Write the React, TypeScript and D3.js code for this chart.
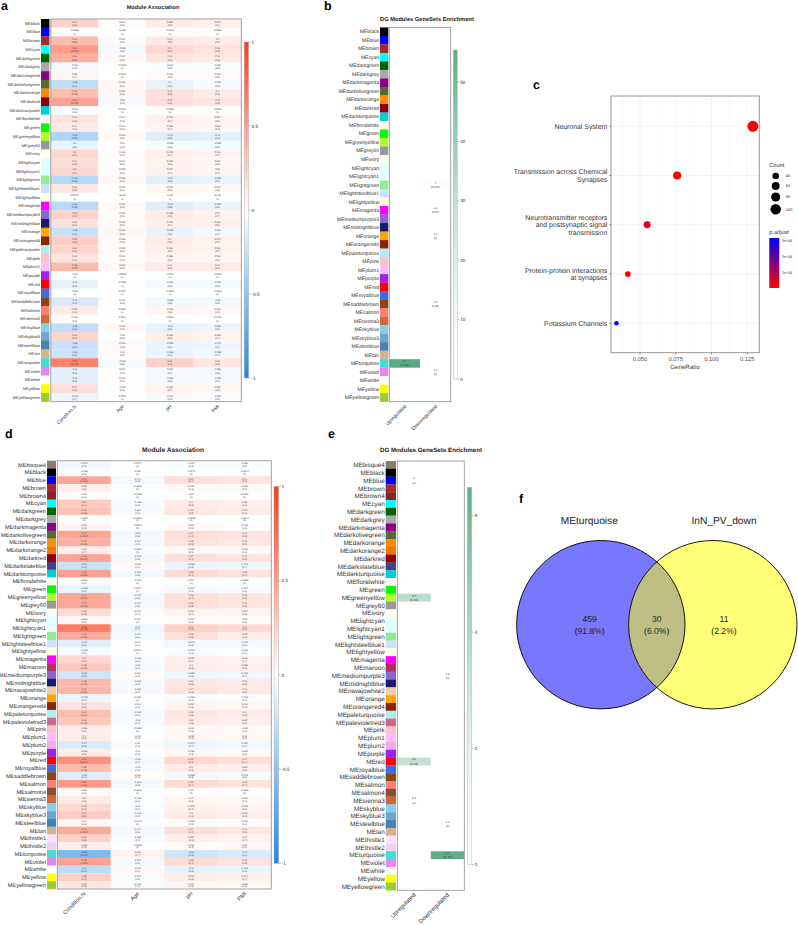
import React from 'react';
import * as d3 from 'd3';

const font = "'Liberation Sans', Arial, sans-serif";

// WGCNA module colours
const moduleColors: Record<string, string> = {
  bisque4: '#8B7D6B', black: '#000000', blue: '#0000FF', brown: '#A52A2A', brown4: '#8B2323', cyan: '#00FFFF',
  darkgreen: '#006400', darkgrey: '#A9A9A9', darkmagenta: '#8B008B', darkolivegreen: '#556B2F', darkorange: '#FF8C00',
  darkorange2: '#EE7600', darkred: '#8B0000', darkslateblue: '#483D8B', darkturquoise: '#00CED1', floralwhite: '#FFFAF0',
  green: '#00FF00', greenyellow: '#ADFF2F', grey60: '#999999', ivory: '#FFFFF0', lightcyan: '#E0FFFF', lightcyan1: '#E0FFFF',
  lightgreen: '#90EE90', lightsteelblue1: '#CAE1FF', lightyellow: '#FFFFE0', magenta: '#FF00FF', maroon: '#B03060',
  mediumpurple3: '#8968CD', midnightblue: '#191970', navajowhite2: '#EECFA1', orange: '#FFA500', orangered4: '#8B2500',
  paleturquoise: '#AFEEEE', palevioletred3: '#CD6889', pink: '#FFC0CB', plum1: '#FFBBFF', plum2: '#EEAEEE', purple: '#A020F0',
  red: '#FF0000', royalblue: '#4169E1', saddlebrown: '#8B4513', salmon: '#FA8072', salmon4: '#8B4C39', sienna3: '#CD6839',
  skyblue: '#87CEEB', skyblue3: '#6CA6CD', steelblue: '#4682B4', tan: '#D2B48C', thistle1: '#FFE1FF', thistle2: '#EED2EE',
  turquoise: '#40E0D0', violet: '#EE82EE', white: '#FFFFFF', yellow: '#FFFF00', yellowgreen: '#9ACD32',
};

const traits = ['Condition.hi', 'Age', 'pH', 'PMI'];
const directions = ['Upregulated', 'Downregulated'];

// Panel a
const modulesA = ['black', 'blue', 'brown', 'cyan', 'darkgreen', 'darkgrey', 'darkmagenta', 'darkolivegreen', 'darkorange', 'darkred', 'darkturquoise', 'floralwhite', 'green', 'greenyellow', 'grey60', 'ivory', 'lightcyan', 'lightcyan1', 'lightgreen', 'lightsteelblue1', 'lightyellow', 'magenta', 'mediumpurple3', 'midnightblue', 'orange', 'orangered4', 'paleturquoise', 'pink', 'plum1', 'purple', 'red', 'royalblue', 'saddlebrown', 'salmon', 'sienna3', 'skyblue', 'skyblue3', 'steelblue', 'tan', 'turquoise', 'violet', 'white', 'yellow', 'yellowgreen'];
const conditionA = [0.23, -0.0059, 0.34, 0.51, 0.41, -0.032, 0.05, -0.28, 0.34, 0.47, -0.014, 0.14, 0.11, -0.36, -0.1, 0.2, 0.17, 0.2, -0.33, 0.12, 0.00027, -0.32, 0.23, 0.15, -0.25, 0.26, 0.22, 0.14, 0.35, -0.01, -0.11, -0.008, -0.17, 0.097, 0.016, -0.28, 0.22, -0.25, -0.23, 0.64, -0.12, -0.12, 0.17, -0.075];
const conditionPA = ['0.4', '1', '0.09', '0.002', '0.03', '0.9', '0.7', '0.2', '0.09', '0.009', '0.9', '0.4', '0.4', '0.05', '0.5', '0.3', '0.4', '0.3', '0.09', '0.5', '1', '0.09', '0.3', '0.4', '0.2', '0.2', '0.3', '0.4', '0.08', '1', '0.5', '1', '0.4', '0.6', '0.9', '0.2', '0.3', '0.2', '0.3', '2e-04', '0.5', '0.5', '0.4', '0.7'];
const ageA = [0.023, 9e-5, 0.021, -0.049, 0.037, 0.0029, 0.0024, 0.036, 0.041, -0.04, 0.0013, 0.017, 0.013, 0.032, 0.01, 0.018, 0.013, 0.018, 0.035, 0.011, -5e-5, 0.037, 0.021, 0.024, 0.042, 0.028, 0.024, 0.013, 0.034, 0.00091, 0.0095, 0.0007, 0.016, 0.0087, 0.0011, 0.029, -0.02, 0.026, 0.02, -0.034, 0.016, 0.016, -0.014, 0.0079];
const agePA = ['0.9', '1', '0.9', '0.8', '0.9', '1', '1', '0.9', '0.9', '0.8', '1', '0.9', '0.9', '0.9', '0.9', '0.9', '0.9', '0.9', '0.9', '0.9', '1', '0.9', '0.9', '0.9', '0.9', '0.9', '0.9', '0.9', '0.9', '1', '1', '1', '0.9', '1', '1', '0.9', '0.9', '0.9', '0.9', '0.8', '0.9', '0.9', '0.9', '1'];
const phA = [0.096, -0.0014, 0.12, 0.2, 0.14, -0.016, 0.022, -0.1, 0.16, 0.17, -0.0053, 0.075, 0.059, -0.14, -0.045, 0.079, 0.069, 0.077, -0.13, 0.046, 9.6e-5, -0.14, 0.095, 0.075, -0.099, 0.1, 0.082, 0.056, 0.11, -0.004, -0.043, -0.0042, -0.065, 0.039, 0.0063, -0.11, 0.084, -0.089, -0.083, 0.24, -0.047, -0.049, 0.068, -0.032];
const phPA = ['0.8', '1', '0.5', '0.3', '0.5', '0.9', '0.9', '0.6', '0.5', '0.4', '1', '0.7', '0.7', '0.5', '0.8', '0.7', '0.8', '0.7', '0.5', '0.8', '1', '0.5', '0.6', '0.7', '0.6', '0.6', '0.6', '0.8', '0.6', '1', '0.8', '1', '0.8', '0.8', '1', '0.5', '0.6', '0.6', '0.6', '0.2', '0.7', '0.8', '0.7', '0.9'];
const pmiA = [0.079, -0.0053, 0.1, 0.15, 0.12, -0.015, 0.024, -0.046, 0.1, 0.14, -0.0046, 0.057, 0.052, -0.12, -0.048, 0.062, 0.043, 0.06, -0.098, 0.032, 8.6e-5, -0.097, 0.07, 0.083, -0.057, 0.074, 0.064, 0.044, 0.11, -0.0018, -0.046, -0.0029, -0.05, 0.029, 0.0036, -0.082, 0.069, -0.076, -0.065, 0.13, -0.052, -0.035, 0.052, -0.024];
const pmiPA = ['0.7', '1', '0.6', '0.4', '0.5', '0.9', '0.9', '0.8', '0.6', '0.5', '1', '0.8', '0.8', '0.6', '0.8', '0.7', '0.8', '0.7', '0.6', '0.8', '1', '0.6', '0.7', '0.6', '0.7', '0.7', '0.7', '0.8', '0.6', '1', '0.8', '1', '0.8', '0.9', '1', '0.6', '0.7', '0.7', '0.7', '0.5', '0.8', '0.8', '0.8', '0.9'];

// Panel d
const modulesD = ['bisque4', 'black', 'blue', 'brown', 'brown4', 'cyan', 'darkgreen', 'darkgrey', 'darkmagenta', 'darkolivegreen', 'darkorange', 'darkorange2', 'darkred', 'darkslateblue', 'darkturquoise', 'floralwhite', 'green', 'greenyellow', 'grey60', 'ivory', 'lightcyan', 'lightcyan1', 'lightgreen', 'lightsteelblue1', 'lightyellow', 'magenta', 'maroon', 'mediumpurple3', 'midnightblue', 'navajowhite2', 'orange', 'orangered4', 'paleturquoise', 'palevioletred3', 'pink', 'plum1', 'plum2', 'purple', 'red', 'royalblue', 'saddlebrown', 'salmon', 'salmon4', 'sienna3', 'skyblue', 'skyblue3', 'steelblue', 'tan', 'thistle1', 'thistle2', 'turquoise', 'violet', 'white', 'yellow', 'yellowgreen'];
const conditionD = [-0.072, -0.033, 0.45, 0.084, 0.027, 0.27, 0.31, -0.0057, 0.06, 0.47, 0.41, 0.09, 0.46, -0.24, 0.49, 0.019, -0.089, 0.44, 0.44, 0.18, 0.038, 0.66, 0.42, -0.13, -0.039, 0.2, 0.28, -0.22, 0.36, 0.37, -0.075, 0.14, 0.34, 0.28, 0.086, 0.1, -0.17, 0.096, 0.57, 0.35, -0.15, 0.52, 0.027, 0.11, 0.19, 0.27, 0.04, 0.44, 0.23, 0.083, -0.58, 0.48, -0.3, 0.25, 0.13];
const conditionPD = ['0.7', '0.9', '0.002', '0.6', '0.9', '0.1', '0.08', '1', '0.8', '0.004', '0.01', '0.7', '0.004', '0.2', '0.002', '0.9', '0.6', '0.004', '0.006', '0.3', '0.9', '4e-05', '0.01', '0.5', '0.9', '0.3', '0.09', '0.3', '0.03', '0.02', '0.7', '0.5', '0.04', '0.09', '0.6', '0.6', '0.3', '0.6', '6e-04', '0.06', '0.4', '0.03', '0.9', '0.5', '0.3', '0.1', '0.8', '0.004', '0.2', '0.6', '4e-04', '0.003', '0.07', '0.1', '0.5'];
const ageD = [0.0077, 0.002, -0.047, -0.0089, -0.0028, -0.028, -0.034, 0.00064, -0.0054, -0.05, -0.044, -0.0084, -0.049, 0.025, -0.052, -0.002, 0.0097, -0.045, -0.047, -0.019, 0.004, -0.07, -0.044, 0.014, 0.0042, -0.022, -0.03, 0.023, -0.038, -0.039, 0.008, -0.014, -0.035, -0.03, -0.0089, -0.011, 0.02, -0.01, -0.06, -0.03, 0.016, -0.053, -0.0029, -0.012, -0.02, -0.029, -0.0043, -0.047, -0.025, -0.0085, 0.062, -0.047, 0.032, -0.027, -0.013];
const agePD = ['1', '1', '0.8', '1', '1', '0.9', '0.9', '1', '1', '0.8', '0.9', '1', '0.8', '0.9', '0.8', '1', '1', '0.8', '0.8', '0.9', '1', '0.7', '0.8', '0.9', '1', '0.9', '0.9', '0.9', '0.9', '0.9', '1', '0.9', '0.9', '0.9', '1', '0.9', '0.9', '0.9', '0.7', '0.9', '0.9', '0.8', '1', '0.9', '0.9', '0.9', '1', '0.8', '0.9', '1', '0.7', '0.8', '0.9', '0.9', '0.9'];
const phD = [-0.027, -0.0071, 0.17, 0.031, -0.01, 0.1, 0.13, -0.0025, 0.024, 0.17, 0.15, 0.033, 0.17, -0.089, 0.18, 0.007, -0.034, 0.16, 0.16, 0.067, 0.014, 0.24, 0.16, -0.049, -0.015, 0.076, 0.1, -0.081, 0.13, 0.14, -0.028, 0.054, 0.13, 0.11, 0.031, 0.038, -0.073, 0.036, 0.21, 0.1, -0.056, 0.19, 0.01, 0.04, 0.073, 0.1, 0.015, 0.17, 0.087, 0.032, -0.22, 0.18, -0.11, 0.094, 0.044];
const phPD = ['0.9', '1', '0.4', '0.9', '1', '0.6', '0.5', '1', '0.9', '0.4', '0.5', '0.9', '0.4', '0.6', '0.4', '1', '0.9', '0.4', '0.5', '0.7', '0.9', '0.2', '0.5', '0.8', '0.9', '0.7', '0.6', '0.6', '0.5', '0.5', '0.9', '0.8', '0.5', '0.6', '0.9', '0.9', '0.7', '0.9', '0.3', '0.5', '0.8', '0.4', '1', '0.9', '0.7', '0.6', '0.9', '0.4', '0.6', '0.9', '0.3', '0.4', '0.5', '0.6', '0.8'];
const pmiD = [-0.022, -0.0094, 0.14, 0.025, 0.0081, 0.08, 0.097, -0.0017, 0.018, 0.14, 0.12, 0.028, 0.14, -0.072, 0.15, 0.0056, -0.027, 0.13, 0.13, 0.054, 0.011, 0.2, 0.097, -0.039, -0.012, 0.061, 0.088, -0.065, 0.11, 0.11, -0.023, 0.042, 0.1, 0.087, 0.025, 0.03, -0.057, 0.029, 0.17, 0.084, -0.045, 0.15, 0.0082, 0.032, 0.058, 0.084, 0.012, 0.13, 0.07, 0.03, -0.17, 0.15, -0.091, 0.074, 0.036];
const pmiPD = ['0.9', '1', '0.5', '0.9', '1', '0.6', '0.6', '1', '0.9', '0.5', '0.5', '0.9', '0.5', '0.7', '0.4', '1', '0.9', '0.5', '0.5', '0.8', '0.9', '0.3', '0.6', '0.8', '0.9', '0.7', '0.6', '0.7', '0.5', '0.5', '0.9', '0.8', '0.6', '0.6', '0.9', '0.9', '0.7', '0.9', '0.4', '0.6', '0.8', '0.4', '1', '0.9', '0.8', '0.6', '0.9', '0.5', '0.7', '0.9', '0.4', '0.5', '0.6', '0.7', '0.9'];

// Panel b: only the labelled cells are kept
const hitModulesB = ['lightgreen', 'magenta', 'orange', 'saddlebrown', 'turquoise', 'violet'];
const hitDirectionB = ['Downregulated', 'Downregulated', 'Downregulated', 'Downregulated', 'Upregulated', 'Downregulated'];
const hitValueB = [4, 3.3, 1.3, 2.8, 57, 1.3];
const hitPB = ['0.025', '0.05', '1', '0.08', '4e-56', '1'];

// Panel e
const hitModulesE = ['blue', 'greenyellow', 'mediumpurple3', 'red', 'sienna3', 'steelblue', 'turquoise'];
const hitDirectionE = ['Upregulated', 'Upregulated', 'Downregulated', 'Upregulated', 'Upregulated', 'Downregulated', 'Downregulated'];
const hitValueE = [1, 3.7, 1.2, 3.4, 2.2, 1.1, 6.5];
const hitPE = ['1', '0.03', '1', '0.03', '1', '1', '3e-06'];

// Panel c
const terms = [['Neuronal System'], ['Transmission across Chemical', 'Synapses'], ['Neurotransmitter receptors', 'and postsynaptic signal', 'transmission'], ['Protein-protein interactions', 'at synapses'], ['Potassium Channels']];
const geneRatio = [0.129, 0.076, 0.055, 0.0415, 0.0335];
const geneCount = [108, 64, 46, 35, 28];
const pAdjust = [1e-10, 1e-9, 3.5e-7, 5e-8, 3.2e-6];
const ratioTicks = [0.05, 0.075, 0.1, 0.125];
const countTicks = [40, 60, 80, 100];
const pTicks = [1e-6, 2e-6, 3e-6];

// Panel f
const vennNames = ['MEturquoise', 'InN_PV_down'];
const vennCounts = [459, 30, 11];
const vennPercents = ['91.8%', '6.0%', '2.2%'];

const corrColor = d3.scaleLinear<string>().domain([-1, 0, 1]).range(['#1E88E5', '#FFFFFF', '#FA3C18']);

const fmt = (v: number) => (Math.abs(v) < 1e-4 ? v.toExponential(0).replace(/e-(\d)$/, 'e-0$1') : String(v));

function Colorbar({ id, scale, color, ticks, x, width, fontSize = 4.6, format }: any) {
  const [y1, y0] = scale.range();
  const [d0, d1] = scale.domain();
  const stops = d3.range(0, 1.001, 0.05);
  return (
    <g>
      <defs>
        <linearGradient id={id} x1="0" y1="1" x2="0" y2="0">
          {stops.map((s: number) => (
            <stop key={s} offset={s} stopColor={color(d0 + (d1 - d0) * s)} />
          ))}
        </linearGradient>
      </defs>
      <rect x={x} y={y0} width={width} height={y1 - y0} fill={`url(#${id})`} stroke="#aaa" strokeWidth={0.4} />
      {ticks.map((t: number) => (
        <g key={t} transform={`translate(${x + width},${scale(t)})`}>
          <line x1={0} x2={2} stroke="#555" strokeWidth={0.4} />
          <text x={3} dy="0.35em" fontSize={fontSize} fill="#333">{format ? format(t) : t}</text>
        </g>
      ))}
    </g>
  );
}

function ModuleRows({ modules, swatchX, swatchW, y, labelSize }: any) {
  return (
    <g>
      {modules.map((m: string) => (
        <g key={m}>
          <rect x={swatchX} y={y(m)} width={swatchW} height={y.bandwidth() + 0.2} fill={moduleColors[m]} />
          <text x={swatchX - 1} y={y(m) + y.bandwidth() / 2} dy="0.35em" textAnchor="end" fontSize={labelSize} fill="#333">{'ME' + m}</text>
        </g>
      ))}
    </g>
  );
}

function XLabels({ labels, x, y, size }: any) {
  return (
    <g>
      {labels.map((l: string) => (
        <text key={l} transform={`translate(${x(l) + x.bandwidth() / 2 + 2},${y}) rotate(-45)`} textAnchor="end" fontSize={size} fill="#333">{l}</text>
      ))}
    </g>
  );
}

function CorrPanel({ modules, columns, x0, x1, y0, y1, swatchX, swatchW, labelSize, cellSize, lineGap, titleX, titleY, titleSize, barX, barW, barTop, barBottom, id, xLabelSize }: any) {
  const x = d3.scaleBand<string>().domain(traits).range([x0, x1]);
  const y = d3.scaleBand<string>().domain(modules).range([y0, y1]);
  const barScale = d3.scaleLinear().domain([-1, 1]).range([barBottom, barTop]);
  return (
    <g>
      <text x={titleX} y={titleY} textAnchor="middle" fontSize={titleSize} fontWeight="bold" fill="#222">Module Association</text>
      <ModuleRows modules={modules} swatchX={swatchX} swatchW={swatchW} y={y} labelSize={labelSize} />
      {columns.map((col: any, ci: number) =>
        modules.map((m: string, ri: number) => {
          const cx = (x(traits[ci]) as number) + x.bandwidth() / 2;
          const cy = (y(m) as number) + y.bandwidth() / 2;
          return (
            <g key={m + ci}>
              <rect x={x(traits[ci])} y={y(m)} width={x.bandwidth()} height={y.bandwidth() + 0.1} fill={corrColor(col.values[ri])} />
              <text x={cx} y={cy - lineGap / 2} dy="0.35em" textAnchor="middle" fontSize={cellSize} fill="#444">{fmt(col.values[ri])}</text>
              <text x={cx} y={cy + lineGap / 2} dy="0.35em" textAnchor="middle" fontSize={cellSize} fill="#444">{`(${col.p[ri]})`}</text>
            </g>
          );
        })
      )}
      <rect x={x0} y={y0} width={x1 - x0} height={y1 - y0} fill="none" stroke="#999" strokeWidth={0.9} />
      <Colorbar id={id} scale={barScale} color={corrColor} ticks={[-1, -0.5, 0, 0.5, 1]} x={barX} width={barW} />
      <XLabels labels={traits} x={x} y={y1 + 5} size={xLabelSize} />
    </g>
  );
}

function EnrichPanel({ modules, hits, x0, x1, y0, y1, swatchX, swatchW, labelSize, cellSize, lineGap, titleX, titleY, titleSize, barX, barW, barBottom, barTop, domainMax, ticks, id, xLabelSize }: any) {
  const x = d3.scaleBand<string>().domain(directions).range([x0, x1]);
  const y = d3.scaleBand<string>().domain(modules).range([y0, y1]);
  const color = d3.scalePow<string>().exponent(1.5).domain([0, domainMax]).range(['#FFFFFF', '#60AD88']);
  const barScale = d3.scaleLinear().domain([0, domainMax]).range([barBottom, barTop]);
  return (
    <g>
      <text x={titleX} y={titleY} textAnchor="middle" fontSize={titleSize} fontWeight="bold" fill="#222">DG Modules GeneSets Enrichment</text>
      <ModuleRows modules={modules} swatchX={swatchX} swatchW={swatchW} y={y} labelSize={labelSize} />
      {hits.modules.map((m: string, i: number) => {
        const cx = (x(hits.direction[i]) as number) + x.bandwidth() / 2;
        const cy = (y(m) as number) + y.bandwidth() / 2;
        // cells that are not significant stay white in the reference
        const significant = Number(hits.p[i]) < 0.05;
        return (
          <g key={m}>
            {significant && <rect x={x(hits.direction[i])} y={y(m)} width={x.bandwidth()} height={y.bandwidth()} fill={color(hits.value[i])} />}
            <text x={cx} y={cy - lineGap / 2} dy="0.35em" textAnchor="middle" fontSize={cellSize} fill="#444">{hits.value[i]}</text>
            <text x={cx} y={cy + lineGap / 2} dy="0.35em" textAnchor="middle" fontSize={cellSize} fill="#444">{`(${hits.p[i]})`}</text>
          </g>
        );
      })}
      <rect x={x0} y={y0} width={x1 - x0} height={y1 - y0} fill="none" stroke="#999" strokeWidth={0.9} />
      <Colorbar id={id} scale={barScale} color={color} ticks={ticks} x={barX} width={barW} />
      <XLabels labels={directions} x={x} y={y1 + 5} size={xLabelSize} />
    </g>
  );
}

function DotPanel() {
  const left = 611, right = 759.3, top = 96, bottom = 352.7;
  const x = d3.scaleLinear().domain([0.0297, 0.1335]).range([left, right]);
  const y = d3.scalePoint<number>().domain(d3.range(terms.length)).range([126.3, 323.3]);
  const size = d3.scaleLinear().domain([28, 40, 100]).range([2.3, 3.3, 5.2]);
  const pColor = d3.scaleLinear<string>().domain([0, 3.2e-6]).range(['#FF0000', '#0000FF']);
  const pBar = d3.scaleLinear().domain([0, 3.2e-6]).range([288, 238]);
  const minor = d3.range(0.0375, 0.14, 0.025).filter((v: number) => x(v) < right);
  const legendY = [176, 186, 197, 209.3];
  return (
    <g>
      {minor.map((v: number) => <line key={v} x1={x(v)} x2={x(v)} y1={top} y2={bottom} stroke="#F2F2F2" strokeWidth={0.4} />)}
      {ratioTicks.map((v) => <line key={v} x1={x(v)} x2={x(v)} y1={top} y2={bottom} stroke="#EBEBEB" strokeWidth={0.6} />)}
      {terms.map((_, i) => <line key={i} x1={left} x2={right} y1={y(i)} y2={y(i)} stroke="#EBEBEB" strokeWidth={0.6} />)}
      <rect x={left} y={top} width={right - left} height={bottom - top} fill="none" stroke="#8c8c8c" strokeWidth={0.9} />
      {terms.map((lines, i) => (
        <g key={i}>
          <line x1={left - 1.8} x2={left} y1={y(i)} y2={y(i)} stroke="#333" strokeWidth={0.5} />
          {lines.map((l, k) => (
            <text key={l} x={607.3} y={(y(i) as number) + (k - (lines.length - 1) / 2) * 7.5} dy="0.35em" textAnchor="end" fontSize={6.9} fill="#333">{l}</text>
          ))}
          <circle cx={x(geneRatio[i])} cy={y(i)} r={size(geneCount[i])} fill={pColor(pAdjust[i])} />
        </g>
      ))}
      {ratioTicks.map((v) => (
        <g key={v}>
          <line x1={x(v)} x2={x(v)} y1={bottom} y2={bottom + 1.8} stroke="#333" strokeWidth={0.5} />
          <text x={x(v)} y={358.5} dy="0.35em" textAnchor="middle" fontSize={5.8} fill="#4D4D4D">{v.toFixed(3)}</text>
        </g>
      ))}
      <text x={685} y={367} dy="0.35em" textAnchor="middle" fontSize={6.2} fill="#333">GeneRatio</text>
      <text x={769.3} y={164.7} dy="0.35em" fontSize={5.6} fill="#333">Count</text>
      {countTicks.map((c, i) => (
        <g key={c}>
          <circle cx={775.7} cy={legendY[i]} r={size(c)} fill="#000" />
          <text x={785.7} y={legendY[i]} dy="0.35em" fontSize={4} fill="#333">{c}</text>
        </g>
      ))}
      <text x={769.3} y={232} dy="0.35em" fontSize={5.6} fill="#333">p.adjust</text>
      <defs>
        <linearGradient id="pbar" x1="0" y1="1" x2="0" y2="0">
          <stop offset="0" stopColor={pColor(0)} />
          <stop offset="1" stopColor={pColor(3.2e-6)} />
        </linearGradient>
      </defs>
      <rect x={769.3} y={238} width={10} height={50} fill="url(#pbar)" />
      {pTicks.map((t) => (
        <text key={t} x={782} y={pBar(t)} dy="0.35em" fontSize={3.9} fill="#333">{`${Math.round(t * 1e6)}e-06`}</text>
      ))}
    </g>
  );
}

function VennPanel() {
  const r = 84.2, cy = 624.7, cxL = 600.8, cxR = 712.8;
  return (
    <g>
      <defs>
        <clipPath id="vennClip"><circle cx={cxL} cy={cy} r={r} /></clipPath>
      </defs>
      <circle cx={cxL} cy={cy} r={r} fill="#7878FF" />
      <circle cx={cxR} cy={cy} r={r} fill="#FFFF78" />
      <circle cx={cxR} cy={cy} r={r} fill="#BEBE85" clipPath="url(#vennClip)" />
      <circle cx={cxL} cy={cy} r={r} fill="none" stroke="#000" strokeWidth={0.9} />
      <circle cx={cxR} cy={cy} r={r} fill="none" stroke="#000" strokeWidth={0.9} />
      <text x={589.3} y={520.7} dy="0.35em" textAnchor="middle" fontSize={10.2} fill="#222">{vennNames[0]}</text>
      <text x={724} y={520.7} dy="0.35em" textAnchor="middle" fontSize={10.2} fill="#222">{vennNames[1]}</text>
      {[589.7, 656.7, 724].map((vx, i) => (
        <g key={vx}>
          <text x={vx} y={618.7} dy="0.35em" textAnchor="middle" fontSize={8.6} fill="#222">{vennCounts[i]}</text>
          <text x={vx} y={631.3} dy="0.35em" textAnchor="middle" fontSize={8.6} fill="#222">{`(${vennPercents[i]})`}</text>
        </g>
      ))}
    </g>
  );
}

const panelLetters = [
  { l: 'a', x: 1, y: 10 }, { l: 'b', x: 324, y: 10 }, { l: 'c', x: 533, y: 89 },
  { l: 'd', x: 5, y: 438 }, { l: 'e', x: 328, y: 438 }, { l: 'f', x: 519, y: 503 },
];

export default function App() {
  const columnsA = [
    { values: conditionA, p: conditionPA }, { values: ageA, p: agePA },
    { values: phA, p: phPA }, { values: pmiA, p: pmiPA },
  ];
  const columnsD = [
    { values: conditionD, p: conditionPD }, { values: ageD, p: agePD },
    { values: phD, p: phPD }, { values: pmiD, p: pmiPD },
  ];
  return (
    <svg width={798} height={925} viewBox="0 0 798 925" textRendering="geometricPrecision" style={{ position: 'absolute', left: 0, top: 0, display: 'block', fontFamily: font, background: '#fff' }}>
      {panelLetters.map((p) => (
        <text key={p.l} x={p.x} y={p.y} fontSize={12.5} fontWeight="bold" fill="#000">{p.l}</text>
      ))}
      <CorrPanel id="barA" modules={modulesA} columns={columnsA} x0={50.8} x1={241.3} y0={19} y1={401.7} swatchX={41} swatchW={8.4}
        labelSize={4} cellSize={2.4} lineGap={3.3} titleX={153} titleY={9} titleSize={5.6}
        barX={244.2} barW={4.4} barTop={42} barBottom={378} xLabelSize={4.8} />
      <EnrichPanel id="barB" modules={modulesA} hits={{ modules: hitModulesB, direction: hitDirectionB, value: hitValueB, p: hitPB }}
        x0={389.3} x1={450.7} y0={27.4} y1={401.7} swatchX={380} swatchW={8.3} labelSize={5} cellSize={2.8} lineGap={4}
        titleX={427} titleY={20.8} titleSize={5.7} barX={453.3} barW={4} barBottom={379} barTop={50} domainMax={55.4} ticks={[0, 10, 20, 30, 40, 50]} xLabelSize={5} />
      <DotPanel />
      <CorrPanel id="barD" modules={modulesD} columns={columnsD} x0={57.3} x1={271.3} y0={460.7} y1={889} swatchX={47} swatchW={9}
        labelSize={5.6} cellSize={2.5} lineGap={2.9} titleX={173} titleY={451.5} titleSize={6.6}
        barX={274} barW={4.6} barTop={486.5} barBottom={863.3} xLabelSize={5.6} />
      <EnrichPanel id="barE" modules={modulesD} hits={{ modules: hitModulesE, direction: hitDirectionE, value: hitValueE, p: hitPE }}
        x0={397.3} x1={464.3} y0={461} y1={890.3} swatchX={385.7} swatchW={10.3} labelSize={6.3} cellSize={3} lineGap={4.2}
        titleX={431} titleY={452} titleSize={6.2} barX={467.3} barW={4.4} barBottom={864.7} barTop={487.3} domainMax={6.49} ticks={[0, 2, 4, 6]} xLabelSize={6} />
      <VennPanel />
    </svg>
  );
}
